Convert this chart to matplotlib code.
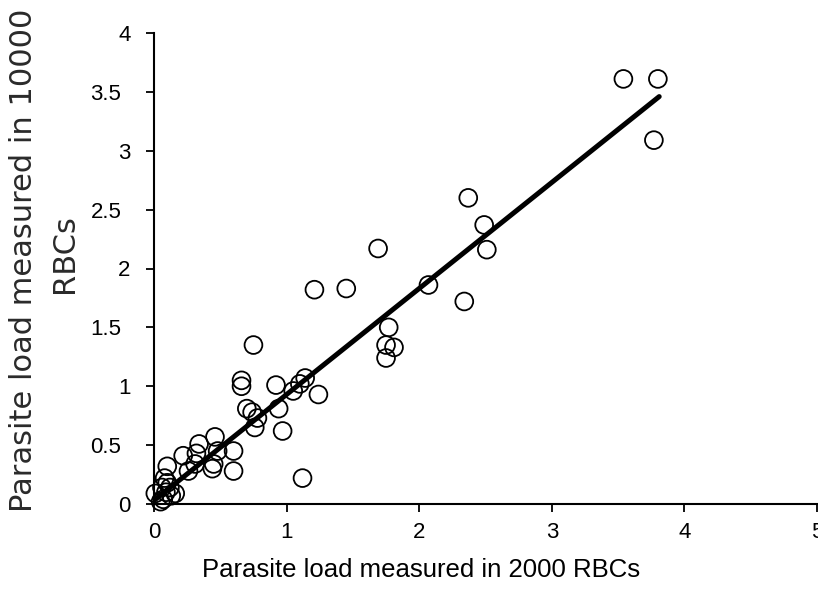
import matplotlib
matplotlib.use("Agg")
import matplotlib.pyplot as plt
from matplotlib.transforms import ScaledTranslation

# Data
x_2000 = [3.54, 3.80, 3.77, 2.37, 2.49, 2.51, 1.69, 1.45, 1.21, 2.07, 2.34,
          1.77, 1.75, 1.81, 1.75, 1.24, 0.75, 0.66, 0.66, 0.92, 1.05, 1.14, 1.10,
          0.70, 0.74, 0.78, 0.94, 0.76, 0.97, 0.46, 0.34, 0.22, 0.32, 0.48, 0.60,
          0.60, 1.12, 0.45, 0.44, 0.26, 0.31, 0.10, 0.08, 0.10, 0.01, 0.16, 0.07,
          0.12, 0.06, 0.13, 0.09, 0.05]
y_10000 = [3.61, 3.61, 3.09, 2.60, 2.37, 2.16, 2.17, 1.83, 1.82, 1.86, 1.72,
           1.50, 1.35, 1.33, 1.24, 0.93, 1.35, 1.05, 1.00, 1.01, 0.96, 1.07, 1.02,
           0.81, 0.78, 0.73, 0.81, 0.65, 0.62, 0.57, 0.51, 0.41, 0.43, 0.45, 0.45,
           0.28, 0.22, 0.34, 0.30, 0.28, 0.34, 0.32, 0.22, 0.18, 0.09, 0.09, 0.04,
           0.14, 0.14, 0.07, 0.10, 0.02]
fit_x = [0.0, 3.81]
fit_y = [0.03, 3.46]

x_ticks = [0, 1, 2, 3, 4, 5]
y_ticks = [0, 0.5, 1, 1.5, 2, 2.5, 3, 3.5, 4]
y_tick_labels = ["0", "0.5", "1", "1.5", "2", "2.5", "3", "3.5", "4"]

W, H = 818, 598
fig = plt.figure(figsize=(W / 100, H / 100), dpi=100)
ax = fig.add_axes([154 / W, 94 / H, (817 - 154) / W, (504 - 33) / H])

ax.scatter(x_2000, y_10000, s=12.8 ** 2, facecolors="none", edgecolors="black",
           linewidths=1.3, clip_on=False, zorder=2)
ax.plot(fit_x, fit_y, color="black", linewidth=3.6, solid_capstyle="round", zorder=3)

ax.set_xlim(0, 5)
ax.set_ylim(0, 4)
ax.set_xticks(x_ticks)
ax.set_xticklabels([str(v) for v in x_ticks])
ax.set_yticks(y_ticks)
ax.set_yticklabels(y_tick_labels)

for side in ("top", "right"):
    ax.spines[side].set_visible(False)
for side in ("left", "bottom"):
    ax.spines[side].set_linewidth(1.5)

ax.tick_params(axis="both", direction="out", length=6, width=1.3, labelsize=16)
ax.tick_params(axis="x", pad=7)
ax.tick_params(axis="y", pad=11)
for lbl in ax.get_xticklabels() + ax.get_yticklabels():
    lbl.set_family(["Liberation Sans", "DejaVu Sans"])
# half-step labels sit further left in the reference
for lbl in ax.get_yticklabels():
    if "." in lbl.get_text():
        lbl.set_transform(lbl.get_transform() +
                          ScaledTranslation(-9 / 100, 0, fig.dpi_scale_trans))

fig.text(421 / W, 1 - 570 / H, "Parasite load measured in 2000 RBCs",
         ha="center", va="center", fontsize=18.5,
         family=["Liberation Sans", "DejaVu Sans"])

fig.text(24 / W, 1 - 260 / H, "Parasite load measured in 10000", rotation=90,
         ha="center", va="center", fontsize=22, color="#2a2a2a",
         family=["DejaVu Sans"])
fig.text(64 / W, 1 - 254 / H, "RBCs", rotation=90,
         ha="center", va="center", fontsize=22, color="#2a2a2a",
         family=["DejaVu Sans"])

fig.savefig("out.png", dpi=100)
